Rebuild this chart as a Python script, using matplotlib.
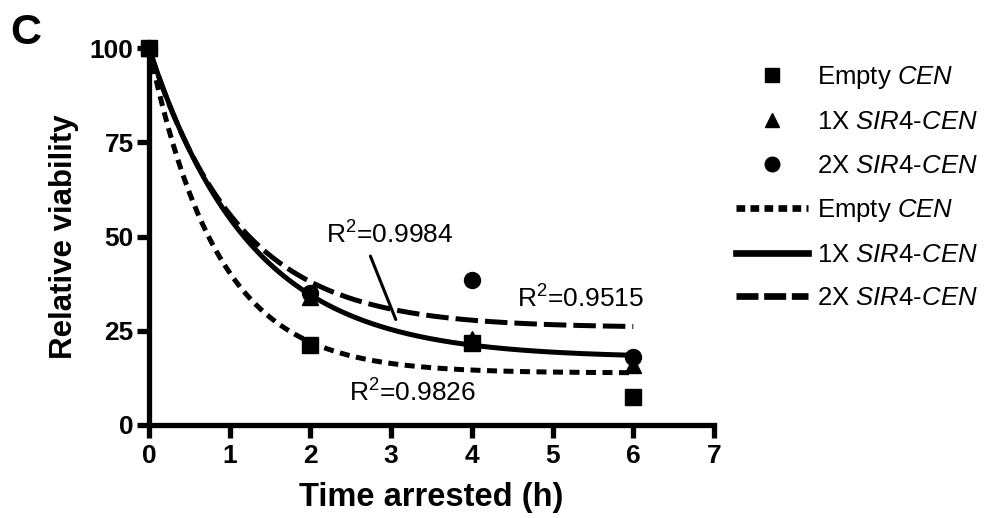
import numpy as np
import matplotlib
matplotlib.use("Agg")
import matplotlib.pyplot as plt
from matplotlib.lines import Line2D

plt.rcParams['font.family'] = ['Liberation Sans', 'DejaVu Sans']
plt.rcParams['mathtext.fontset'] = 'custom'
plt.rcParams['mathtext.rm'] = 'Liberation Sans'
plt.rcParams['mathtext.it'] = 'Liberation Sans:italic'
plt.rcParams['mathtext.bf'] = 'Liberation Sans:bold'

# ---- data ----
time_h = [0, 2, 4, 6]
empty_cen = [100, 21.2, 21.7, 7.4]
sir4_1x = [100, 34.0, 22.8, 16.0]
sir4_2x = [100, 35.0, 38.5, 18.0]

# one-phase exponential decay fits: y = plateau + (100 - plateau) * exp(-k t)
fit_plateau = {'empty': 13.8, '1x': 17.8, '2x': 25.8}
fit_k = {'empty': 1.177, '1x': 0.797, '2x': 0.903}
r2_labels = {'empty': '0.9826', '1x': '0.9984', '2x': '0.9515'}

x_ticks = [0, 1, 2, 3, 4, 5, 6, 7]
y_ticks = [0, 25, 50, 75, 100]

fig = plt.figure(figsize=(9.86, 5.18), dpi=100)
ax = fig.add_axes([149/986, 1-425/518, (714-149)/986, (425-48)/518])

lw = 3.6
t = np.linspace(0, 6, 300)
def curve(key):
    p = fit_plateau[key]; k = fit_k[key]
    return p + (100 - p) * np.exp(-k * t)

dot_style = (0, (2.0, 1.3))
dash_style = (0, (4.5, 1.4))

ax.plot(t, curve('empty'), color='black', lw=lw, ls=dot_style, dash_capstyle='butt', clip_on=False)
ax.plot(t, curve('1x'), color='black', lw=lw, ls='-', clip_on=False)
ax.plot(t, curve('2x'), color='black', lw=lw, ls=dash_style, dash_capstyle='butt', clip_on=False)

ms = 11.5
ax.plot(time_h, empty_cen, 's', color='black', ms=ms, clip_on=False, zorder=5)
ax.plot(time_h, sir4_1x, '^', color='black', ms=ms, clip_on=False, zorder=5)
ax.plot(time_h, sir4_2x, 'o', color='black', ms=ms, clip_on=False, zorder=5)

ax.set_xlim(0, 7)
ax.set_ylim(0, 100)
ax.set_xticks(x_ticks)
ax.set_yticks(y_ticks)
for s in ['top', 'right']:
    ax.spines[s].set_visible(False)
for s in ['left', 'bottom']:
    ax.spines[s].set_linewidth(3.8)
    ax.spines[s].set_capstyle('projecting')
ax.tick_params(width=3.8, length=9, labelsize=19)
ax.tick_params(axis='x', pad=5)
ax.tick_params(axis='y', pad=2)
for lab in ax.get_xticklabels() + ax.get_yticklabels():
    lab.set_fontweight('bold')

ax.set_xlabel('Time arrested (h)', fontsize=23.5, fontweight='bold', labelpad=10)
ax.set_ylabel('Relative viability', fontsize=22.5, fontweight='bold', labelpad=8)

fs_r = 19
ax.text(2.98, 50.5, 'R$^2$=' + r2_labels['1x'], fontsize=fs_r, ha='center', va='center')
ax.annotate('', xy=(3.07, 27.3), xytext=(2.73, 45.5),
            arrowprops=dict(arrowstyle='-', lw=2.2, color='black'))
ax.text(3.26, 8.5, 'R$^2$=' + r2_labels['empty'], fontsize=fs_r, ha='center', va='center')
ax.text(5.35, 33.5, 'R$^2$=' + r2_labels['2x'], fontsize=fs_r, ha='center', va='center')

fig.text(10/986, 1-33/518, 'C', fontsize=31, fontweight='bold', ha='left', va='center')

lw_leg = 4.8
handles = [
    Line2D([], [], ls='none', marker='s', color='black', ms=10.5),
    Line2D([], [], ls='none', marker='^', color='black', ms=10.5),
    Line2D([], [], ls='none', marker='o', color='black', ms=10.5),
    Line2D([], [], ls=(0, (1.3, 0.8)), color='black', lw=lw_leg, dash_capstyle='butt'),
    Line2D([], [], ls='-', color='black', lw=lw_leg),
    Line2D([], [], ls=(0, (3.3, 0.85)), color='black', lw=lw_leg, dash_capstyle='butt'),
]
labels = [
    'Empty $\\mathit{CEN}$',
    '1X $\\mathit{SIR4}$-$\\mathit{CEN}$',
    '2X $\\mathit{SIR4}$-$\\mathit{CEN}$',
    'Empty $\\mathit{CEN}$',
    '1X $\\mathit{SIR4}$-$\\mathit{CEN}$',
    '2X $\\mathit{SIR4}$-$\\mathit{CEN}$',
]
fig.legend(handles, labels, loc='upper left', bbox_to_anchor=(736/986, 1-64/518),
           frameon=False, fontsize=fs_r - 0.5, handlelength=2.8, handletextpad=0.35,
           labelspacing=0.75, borderpad=0, borderaxespad=0)

fig.savefig('out.png', dpi=100)
